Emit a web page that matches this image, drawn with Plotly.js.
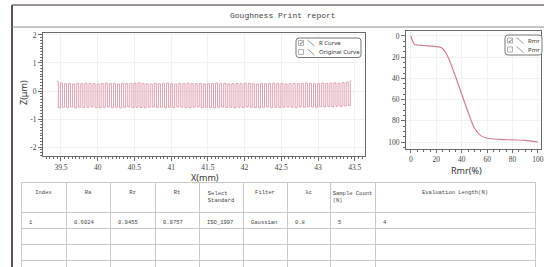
<!DOCTYPE html>
<html><head><meta charset="utf-8">
<script src="https://cdn.plot.ly/plotly-3.0.1.min.js"></script>
<style>html,body{margin:0;padding:0;background:#fff;}#chart{width:544px;height:267px;}</style>
</head><body><div id="chart"></div>
<script>
// ---------- DATA ----------
const reportTitle = "Goughness Print report";
// profile (R curve): sampled every half period, starting at 39.45 mm
const profileStartX = 39.45;   // mm
const profileStepX = 0.0278;   // mm (sample interval)
const profilePeaks = [0.35,0.28,0.26,0.27,0.25,0.27,0.26,0.28,0.27,0.26,0.25,0.27,0.28,0.26,0.27,0.25,0.27,0.26,0.27,0.28,0.29,0.27,0.26,0.25,0.27,0.26,0.27,0.28,0.26,0.25,0.27,0.26,0.28,0.27,0.26,0.27,0.25,0.26,0.27,0.28,0.26,0.27,0.25,0.26,0.27,0.26,0.28,0.27,0.26,0.25,0.27,0.26,0.27,0.28,0.26,0.27,0.25,0.26,0.27,0.26,0.27,0.28,0.27,0.26,0.27,0.28,0.27,0.28,0.29,0.28,0.30,0.31,0.36];
const profileValleys = [-0.60,-0.58,-0.59,-0.57,-0.60,-0.58,-0.59,-0.58,-0.57,-0.59,-0.60,-0.58,-0.57,-0.59,-0.58,-0.60,-0.58,-0.57,-0.59,-0.58,-0.59,-0.60,-0.58,-0.57,-0.59,-0.58,-0.60,-0.58,-0.59,-0.57,-0.58,-0.59,-0.60,-0.58,-0.57,-0.59,-0.58,-0.59,-0.60,-0.58,-0.57,-0.59,-0.58,-0.60,-0.58,-0.59,-0.57,-0.58,-0.59,-0.60,-0.58,-0.57,-0.59,-0.58,-0.59,-0.58,-0.57,-0.58,-0.59,-0.57,-0.58,-0.56,-0.57,-0.58,-0.56,-0.57,-0.55,-0.56,-0.54,-0.55,-0.53,-0.52];
const xTickVals = [39.5,40,40.5,41,41.5,42,42.5,43,43.5];
const xTickText = ["39.5","40","40.5","41","41.5","42","42.5","43","43.5"];
const zTickVals = [2,1,0,-1,-2];
const zTickText = ["2","1","0","-1","-2"];
// material ratio (Abbott) curve
const rmrPercent = [0,1,3,5,10,15,20,24,27,30,35,40,45,50,55,60,70,80,90,100];
const rmrDepth   = [0,4,8,8.5,9,9.5,10,11,15,22,38,55,72,87,94,96.5,97.5,98,98.5,100];
const rmrTickVals = [0,20,40,60,80,100];
const legendLeft = ["R Curve","Original Curve"];
const legendLeftChecked = [true,false];
const legendRight = ["Rmr","Pmr"];
const legendRightChecked = [true,false];
const axisTitles = ["X(mm)","Z(μm)","Rmr(%)"];
// table
const tableHeaders = ["Index","Ra","Rz","Rt","Select<br>Standard","Filter","λc","Sample Count<br>(N)","Evaluation Length(N)"];
const rowIndex = ["1","","",""];
const rowRa = ["0.6024","","",""];
const rowRz = ["0.9455","","",""];
const rowRt = ["0.9757","","",""];
const rowStandard = ["ISO_1997","","",""];
const rowFilter = ["Gaussian","","",""];
const rowLc = ["0.8","","",""];
const rowSampleCount = ["5","","",""];
const rowEvalLength = ["4","","",""];

// ---------- BUILD ----------
const W = 544, H = 267;
const px = v => v / W, py = v => 1 - v / H;

const profX = [], profZ = [];
for (let i = 0; i < profilePeaks.length; i++) {
  profX.push(profileStartX + profileStepX * (2 * i)); profZ.push(profilePeaks[i]);
  if (i < profileValleys.length) { profX.push(profileStartX + profileStepX * (2 * i + 1)); profZ.push(profileValleys[i]); }
}

const curveColor = "#d4899a";
const axisColor = "#6a6a6a";
const tickFont = {family: "Liberation Serif", size: 7.5, color: "#444"};
const titleFont = {family: "Noto Sans", size: 9, color: "#333"};

const traces = [
  {type: "scatter", mode: "lines", x: profX, y: profZ, xaxis: "x", yaxis: "y",
   line: {color: curveColor, width: 0.8, shape: "hvh"}, hoverinfo: "skip", showlegend: false},
  {type: "scatter", mode: "lines", x: rmrPercent, y: rmrDepth, xaxis: "x2", yaxis: "y2",
   line: {color: "#cf8090", width: 1.2, shape: "spline", smoothing: 0.6}, hoverinfo: "skip", showlegend: false},
  {type: "table", domain: {x: [px(21), px(535)], y: [0, py(182)]},
   columnwidth: [45,44,45,44,44,44,43,45,160],
   header: {values: tableHeaders, height: 22, align: "center",
            font: {family: "Liberation Mono", size: 5.5, color: "#444"},
            fill: {color: "#fff"}, line: {color: "#c8c8c8", width: 1}},
   cells: {values: [rowIndex,rowRa,rowRz,rowRt,rowStandard,rowFilter,rowLc,rowSampleCount,rowEvalLength],
           height: 16, align: "left",
           font: {family: "Liberation Mono", size: 5.5, color: "#444"},
           fill: {color: "#fff"}, line: {color: "#c8c8c8", width: 1}}}
];

const axCommon = {showline: true, linecolor: axisColor, linewidth: 1, mirror: true,
  ticks: "outside", ticklen: 4, tickcolor: axisColor, tickfont: tickFont,
  showgrid: true, gridcolor: "#f1f1f1", zeroline: false, automargin: false, fixedrange: true};

const shapes = [], annotations = [];
// outer frame
shapes.push({type: "line", xref: "paper", yref: "paper", x0: px(12), x1: px(12), y0: py(5), y1: 0, line: {color: "#5a5050", width: 2}});
shapes.push({type: "line", xref: "paper", yref: "paper", x0: px(12), x1: 1, y0: py(5), y1: py(5), line: {color: "#7a7070", width: 1.5}});
shapes.push({type: "line", xref: "paper", yref: "paper", x0: px(12), x1: 1, y0: py(27), y1: py(27), line: {color: "#8a8a8a", width: 1}});
annotations.push({xref: "paper", yref: "paper", x: px(283), y: py(15.5), text: reportTitle, showarrow: false,
  font: {family: "Liberation Mono", size: 8, color: "#444"}, xanchor: "center", yanchor: "middle"});
// axis titles
annotations.push({xref: "paper", yref: "paper", x: px(205), y: py(177), text: axisTitles[0], showarrow: false,
  font: titleFont, xanchor: "center", yanchor: "middle"});
annotations.push({xref: "paper", yref: "paper", x: px(24), y: py(93), text: axisTitles[1], showarrow: false,
  font: titleFont, xanchor: "center", yanchor: "middle", textangle: -90});
annotations.push({xref: "paper", yref: "paper", x: px(466), y: py(170), text: axisTitles[2], showarrow: false,
  font: titleFont, xanchor: "center", yanchor: "middle"});

function legendBox(x0, y0, x1, y1, names, checked, rowYs) {
  const r = 3;
  const X0 = px(x0), X1 = px(x1), Y0 = py(y0), Y1 = py(y1);
  const rx = r / W, ry = r / H;
  shapes.push({type: "path", xref: "paper", yref: "paper",
    path: `M ${X0+rx} ${Y0} L ${X1-rx} ${Y0} Q ${X1} ${Y0} ${X1} ${Y0-ry} L ${X1} ${Y1+ry} Q ${X1} ${Y1} ${X1-rx} ${Y1} L ${X0+rx} ${Y1} Q ${X0} ${Y1} ${X0} ${Y1+ry} L ${X0} ${Y0-ry} Q ${X0} ${Y0} ${X0+rx} ${Y0} Z`,
    line: {color: "#777", width: 1}, fillcolor: "#fff"});
  names.forEach((nm, i) => {
    const cy = rowYs[i];
    const bx = x0 + 2.5;
    shapes.push({type: "rect", xref: "paper", yref: "paper", x0: px(bx), x1: px(bx + 5), y0: py(cy - 2.5), y1: py(cy + 2.5),
      line: {color: "#999", width: 0.8}, fillcolor: "#fff"});
    if (checked[i]) annotations.push({xref: "paper", yref: "paper", x: px(bx + 2.7), y: py(cy - 0.3), text: "✓", showarrow: false,
      font: {family: "DejaVu Sans", size: 6, color: "#333"}, xanchor: "center", yanchor: "middle"});
    shapes.push({type: "line", xref: "paper", yref: "paper", x0: px(bx + 9), x1: px(bx + 16), y0: py(cy - 3), y1: py(cy + 3),
      line: {color: "#999", width: 1}});
    annotations.push({xref: "paper", yref: "paper", x: px(bx + 18.5), y: py(cy), text: nm, showarrow: false,
      font: {family: "Noto Sans", size: 6, color: "#333"}, xanchor: "left", yanchor: "middle"});
  });
}
legendBox(296, 38, 361, 57.5, legendLeft, legendLeftChecked, [43, 52]);
legendBox(505, 35, 542, 55, legendRight, legendRightChecked, [40.5, 49.5]);

const layout = {
  width: W, height: H, margin: {l: 0, r: 0, t: 0, b: 0},
  paper_bgcolor: "#fff", plot_bgcolor: "#fff", showlegend: false,
  xaxis: Object.assign({}, axCommon, {domain: [px(43), px(365)], range: [39.255, 43.64],
    tickvals: xTickVals, ticktext: xTickText,
    minor: {dtick: 0.05, ticks: "outside", ticklen: 2, tickcolor: axisColor, showgrid: false}}),
  yaxis: Object.assign({}, axCommon, {domain: [py(156), py(33)], range: [-2.32, 2.07],
    tickvals: zTickVals, ticktext: zTickText,
    minor: {dtick: 0.1, ticks: "outside", ticklen: 2, tickcolor: axisColor, showgrid: false}}),
  xaxis2: Object.assign({}, axCommon, {anchor: "y2", domain: [px(406), px(541)], range: [-3.9, 102.4],
    tickvals: rmrTickVals, ticklen: 3,
    minor: {dtick: 5, ticks: "outside", ticklen: 2, tickcolor: axisColor, showgrid: false}}),
  yaxis2: Object.assign({}, axCommon, {anchor: "x2", domain: [py(149), py(31)], range: [106.6, -4.7],
    tickvals: rmrTickVals,
    minor: {dtick: 5, ticks: "outside", ticklen: 2, tickcolor: axisColor, showgrid: false}}),
  shapes: shapes, annotations: annotations
};

Plotly.newPlot("chart", traces, layout, {displayModeBar: false, staticPlot: true});
</script>
</body></html>
